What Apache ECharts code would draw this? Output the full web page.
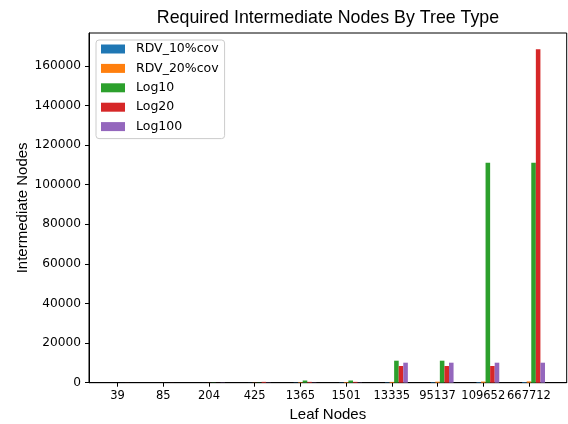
<!DOCTYPE html>
<html>
<head>
<meta charset="utf-8">
<script src="https://cdn.jsdelivr.net/npm/echarts@6/dist/echarts.min.js"></script>
<style>html,body{margin:0;padding:0;background:#fff;}#c{width:568px;height:424px;}</style>
</head>
<body>
<div id="c"></div>
<script>
// ---- data ----
const categories = ['39', '85', '204', '425', '1365', '1501', '13335', '95137', '109652', '667712'];
const seriesNames = ['RDV_10%cov', 'RDV_20%cov', 'Log10', 'Log20', 'Log100'];
const rdv10 = [4, 8, 20, 42, 130, 145, 200, 260, 280, 330];
const rdv20 = [8, 16, 40, 84, 260, 290, 400, 520, 560, 660];
const log10 = [11, 11, 111, 111, 1111, 1111, 11111, 11111, 111111, 111111];
const log20 = [21, 21, 21, 421, 421, 421, 8421, 8421, 8421, 168421];
const log100 = [1, 1, 101, 101, 101, 101, 10101, 10101, 10101, 10101];
const yTicks = [0, 20000, 40000, 60000, 80000, 100000, 120000, 140000, 160000];
const colors = ['#1f77b4', '#ff7f0e', '#2ca02c', '#d62728', '#9467bd'];

const groupOffset = 0.1; // group of bars is centred one bar-width right of its tick
const allValues = [rdv10, rdv20, log10, log20, log100];
const tickIdx = categories.map((c, i) => i);

const series = seriesNames.map((name, s) => ({
  name: name,
  type: 'bar',
  barWidth: '10%',
  barGap: '0%',
  itemStyle: { color: colors[s] },
  data: allValues[s].map((v, i) => [i + groupOffset, v])
}));

const chart = echarts.init(document.getElementById('c'), null, { renderer: 'canvas' });
chart.setOption({
  animation: false,
  backgroundColor: '#fff',
  title: {
    text: 'Required Intermediate Nodes By Tree Type',
    left: 328, textAlign: 'center', top: 9, padding: 0,
    textStyle: { fontFamily: 'Liberation Sans', fontSize: 17.8, fontWeight: 'normal', color: '#000' }
  },
  legend: {
    orient: 'vertical', left: 96, top: 40,
    padding: [2, 6, 5, 5],
    itemWidth: 24, itemHeight: 9, itemGap: 5.4,
    backgroundColor: 'rgba(255,255,255,0.8)',
    borderColor: '#cccccc', borderWidth: 1, borderRadius: 3,
    icon: 'rect',
    data: seriesNames,
    textStyle: { fontFamily: 'DejaVu Sans', fontSize: 12.5, color: '#000', lineHeight: 14, padding: [0, 0, 0, 6] }
  },
  grid: {
    left: 89, right: 1.3, top: 33, bottom: 41.3,
    containLabel: false, outerBoundsMode: 'none',
    show: true, borderColor: '#000', borderWidth: 1, backgroundColor: 'transparent'
  },
  xAxis: {
    type: 'value', min: -0.625, max: 9.825,
    name: 'Leaf Nodes', nameLocation: 'middle', nameGap: 25, nameMoveOverlap: false,
    nameTextStyle: { fontFamily: 'Liberation Sans', fontSize: 15, color: '#000' },
    axisLine: { show: true, onZero: false, lineStyle: { color: '#000', width: 1 } },
    axisTick: { show: true, length: 4, lineStyle: { color: '#000' }, customValues: tickIdx },
    axisLabel: {
      customValues: tickIdx, margin: 7, hideOverlap: false,
      showMinLabel: true, showMaxLabel: true,
      fontFamily: 'DejaVu Sans', fontSize: 11.5, color: '#000',
      formatter: v => categories[Math.round(v)]
    },
    splitLine: { show: false }
  },
  yAxis: {
    type: 'value', min: 0, max: 176600,
    name: 'Intermediate Nodes', nameLocation: 'middle', nameGap: 59, nameMoveOverlap: false,
    nameTextStyle: { fontFamily: 'Liberation Sans', fontSize: 15, color: '#000' },
    axisLine: { show: true, onZero: false, lineStyle: { color: '#000', width: 1 } },
    axisTick: { show: true, length: 4, lineStyle: { color: '#000' }, customValues: yTicks },
    axisLabel: {
      customValues: yTicks, margin: 8, fontFamily: 'DejaVu Sans', fontSize: 12.2, color: '#000',
      formatter: v => String(v)
    },
    splitLine: { show: false }
  },
  series: series
});
</script>
</body>
</html>
